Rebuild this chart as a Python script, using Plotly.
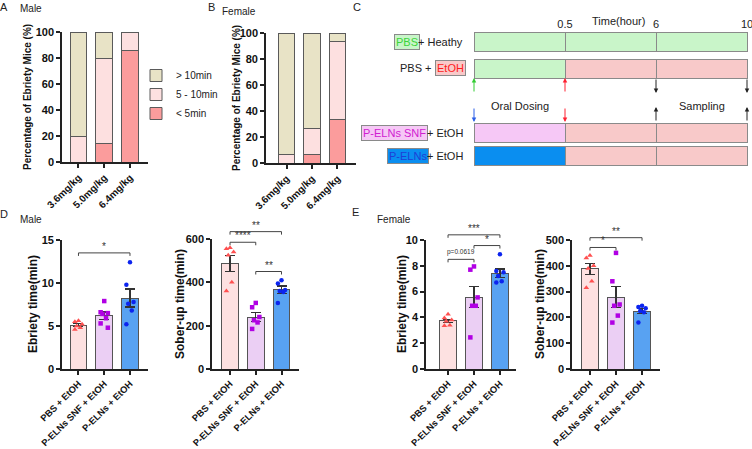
import plotly.graph_objects as go

W, H = 752, 449
FONT = "Liberation Sans, Arial, sans-serif"

# ---------------- data ----------------
doses = ["3.6mg/kg", "5.0mg/kg", "6.4mg/kg"]
onset_classes = ["&lt; 5min", "5 - 10min", "&gt; 10min"]
male_lt5 = [0.0, 14.3, 85.7]
male_5to10 = [20.0, 65.7, 14.3]
male_gt10 = [80.0, 20.0, 0.0]
female_lt5 = [0.0, 6.7, 33.3]
female_5to10 = [6.7, 20.0, 60.0]
female_gt10 = [93.3, 73.3, 6.7]

groups = ["PBS + EtOH", "P-ELNs SNF + EtOH", "P-ELNs + EtOH"]

male_ebriety_mean = [5.1, 6.2, 8.25]
male_ebriety_sem = [0.15, 0.42, 1.05]
male_ebriety_pbs = [5.6, 5.5, 5.2, 5.0, 4.8, 4.6]
male_ebriety_snf = [7.9, 6.6, 6.5, 6.4, 5.9, 5.3, 4.8]
male_ebriety_pelns = [12.4, 9.8, 7.8, 7.6, 6.8, 5.2]

male_sober_mean = [487, 240, 366]
male_sober_sem = [36, 21, 17]
male_sober_pbs = [560, 555, 540, 525, 400, 360]
male_sober_snf = [305, 285, 240, 225, 215, 185]
male_sober_pelns = [410, 395, 365, 360, 355, 305]

female_ebriety_mean = [3.74, 5.56, 7.44]
female_ebriety_sem = [0.12, 0.82, 0.32]
female_ebriety_pbs = [4.25, 3.95, 3.8, 3.7, 3.4, 3.35]
female_ebriety_snf = [7.95, 7.7, 5.55, 4.9, 4.9, 2.45]
female_ebriety_pelns = [8.9, 7.6, 7.5, 7.2, 6.8, 6.7]

female_sober_mean = [388, 279, 224]
female_sober_sem = [21, 42, 10]
female_sober_pbs = [440, 430, 400, 390, 340, 315]
female_sober_snf = [450, 340, 250, 245, 207, 180]
female_sober_pelns = [245, 240, 235, 225, 220, 180]

# comparisons: (group i, group j, bracket height in data units, label)
cmp_male_ebriety = [(0, 2, 13.5, "*")]
cmp_male_sober = [(0, 2, 634, "**"), (0, 1, 585, "****"), (1, 2, 450, "**")]
cmp_female_ebriety = [(0, 2, 10.4, "***"), (1, 2, 9.57, "*"), (0, 1, 8.5, "p=0.0619")]
cmp_female_sober = [(0, 2, 509, "**"), (0, 1, 471, "*")]

# schematic (panel C)
time_ticks = ["0.5", "6", "10"]
schedule_rows = ["PBS + Heathy", "PBS + EtOH", "P-ELNs SNF + EtOH", "P-ELNs + EtOH"]
GREEN, PINK, VIOLET, BLUE = "#c9f5c9", "#f8c9c9", "#f6c8f6", "#0a8ef0"
row_colors = [[GREEN, GREEN, GREEN], [GREEN, PINK, PINK], [VIOLET, PINK, PINK], [BLUE, PINK, PINK]]

# ---------------- layout geometry (pixels) ----------------
panels = {
    "A": dict(xa="x", ya="y", px=(62, 148), py=(32, 162), xr=(-0.64, 2.70), yr=(0, 100), dtick=20, cats=doses, xfs=10),
    "B": dict(xa="x2", ya="y2", px=(266, 356), py=(33, 163), xr=(-0.81, 2.73), yr=(0, 100), dtick=20, cats=doses, xfs=10),
    "D1": dict(xa="x3", ya="y3", px=(62, 148), py=(240, 369), xr=(-0.64, 2.70), yr=(0, 15), dtick=5, cats=groups, xfs=9.3),
    "D2": dict(xa="x4", ya="y4", px=(212, 299), py=(239, 369), xr=(-0.70, 2.68), yr=(0, 600), dtick=200, cats=groups, xfs=9.3),
    "E1": dict(xa="x5", ya="y5", px=(426, 516), py=(240, 369), xr=(-0.85, 2.62), yr=(0, 10), dtick=2, cats=groups, xfs=9.3),
    "E2": dict(xa="x6", ya="y6", px=(572, 660), py=(240, 369), xr=(-0.69, 2.69), yr=(0, 500), dtick=100, cats=groups, xfs=9.3),
}


def to_px(p, xv, yv):
    (x0, x1), (y0, y1) = p["px"], p["py"]
    xr, yr = p["xr"], p["yr"]
    px = x0 + (xv - xr[0]) / (xr[1] - xr[0]) * (x1 - x0)
    py = y1 - (yv - yr[0]) / (yr[1] - yr[0]) * (y1 - y0)
    return px, py


def PX(v):
    return v / W


def PY(v):
    return 1 - v / H


fig = go.Figure()

# ---------------- A / B stacked bars ----------------
stack_colors = ["#fb9c9c", "#fde0e0", "#e8e3c6"]
for key, series, show in [("A", [male_lt5, male_5to10, male_gt10], True),
                          ("B", [female_lt5, female_5to10, female_gt10], False)]:
    p = panels[key]
    for name, vals, col in zip(onset_classes, series, stack_colors):
        fig.add_trace(go.Bar(
            x=[0, 1, 2], y=vals, name=name, width=0.65,
            marker=dict(color=col, line=dict(color="#5a5a5a", width=1)),
            xaxis=p["xa"], yaxis=p["ya"], showlegend=show, legendgroup=name,
            cliponaxis=False, hoverinfo="skip"))

# ---------------- D / E bar + scatter ----------------
bar_fills = ["#fde1e1", "#ebcff4", "#58a2f2"]
point_styles = [("triangle-up", "#ff5050", 5), ("square", "#b100e4", 4.5), ("circle", "#0c24ef", 4.5)]
JIT = [0.0, -0.14, 0.14, -0.07, 0.07, -0.14, 0.14]

dataset = {
    "D1": (male_ebriety_mean, male_ebriety_sem, [male_ebriety_pbs, male_ebriety_snf, male_ebriety_pelns], cmp_male_ebriety),
    "D2": (male_sober_mean, male_sober_sem, [male_sober_pbs, male_sober_snf, male_sober_pelns], cmp_male_sober),
    "E1": (female_ebriety_mean, female_ebriety_sem, [female_ebriety_pbs, female_ebriety_snf, female_ebriety_pelns], cmp_female_ebriety),
    "E2": (female_sober_mean, female_sober_sem, [female_sober_pbs, female_sober_snf, female_sober_pelns], cmp_female_sober),
}

shapes = []
annotations = []

for key, (means, sems, pts, cmps) in dataset.items():
    p = panels[key]
    fig.add_trace(go.Bar(
        x=[0, 1, 2], y=means, width=0.65, showlegend=False,
        marker=dict(color=bar_fills, line=dict(color="#555555", width=1)),
        error_y=dict(type="data", array=sems, visible=True, color="#333333", thickness=1.2, width=5),
        xaxis=p["xa"], yaxis=p["ya"], cliponaxis=False, hoverinfo="skip"))
    for gi, vals in enumerate(pts):
        sym, col, sz = point_styles[gi]
        xs = [gi + JIT[k % len(JIT)] for k in range(len(vals))]
        fig.add_trace(go.Scatter(
            x=xs, y=vals, mode="markers", showlegend=False,
            marker=dict(symbol=sym, color=col, size=sz, line=dict(width=0)),
            xaxis=p["xa"], yaxis=p["ya"], cliponaxis=False, hoverinfo="skip"))
    for (i, j, yv, lab) in cmps:
        xa_px, yy = to_px(p, i, yv)
        xb_px, _ = to_px(p, j, yv)
        shapes.append(dict(
            type="path", xref="paper", yref="paper",
            path=f"M {PX(xa_px)},{PY(yy + 3)} L {PX(xa_px)},{PY(yy)} L {PX(xb_px)},{PY(yy)} L {PX(xb_px)},{PY(yy + 3)}",
            line=dict(color="#444444", width=1)))
        small = lab.startswith("p=")
        annotations.append(dict(
            x=PX((xa_px + xb_px) / 2), y=PY(yy - (1 if small else -1)), xref="paper", yref="paper",
            text=lab, showarrow=False, xanchor="center", yanchor="bottom",
            font=dict(size=6.5 if small else 10, color="#333", family=FONT)))

# ---------------- axes ----------------
layout_axes = {}
for key, p in panels.items():
    xn = "xaxis" + p["xa"][1:]
    yn = "yaxis" + p["ya"][1:]
    layout_axes[xn] = dict(
        domain=[PX(p["px"][0]), PX(p["px"][1])], anchor=p["ya"], range=list(p["xr"]),
        tickmode="array", tickvals=[0, 1, 2], ticktext=p["cats"], tickangle=-45,
        ticks="outside", ticklen=4, tickwidth=1.5, tickcolor="#222", automargin=False,
        ticklabeloverflow="allow",
        showline=True, linewidth=1.6, linecolor="#222", showgrid=False, zeroline=False,
        tickfont=dict(size=p["xfs"], family=FONT, color="#111", weight="bold"))
    layout_axes[yn] = dict(
        domain=[PY(p["py"][1]), PY(p["py"][0])], anchor=p["xa"], range=list(p["yr"]),
        dtick=p["dtick"], tick0=0, ticks="outside", ticklen=4, tickwidth=1.5, tickcolor="#222",
        automargin=False, ticklabeloverflow="allow",
        showline=True, linewidth=1.6, linecolor="#222", showgrid=False, zeroline=False,
        tickfont=dict(size=11, family=FONT, color="#111", weight="bold"))

# ---------------- panel C schematic ----------------
C_X0, C_X3 = 474, 747
c_scale = (C_X3 - C_X0) / 3.0
row_y = [42, 68.5, 132.5, 156]
row_h = 19
layout_axes["xaxis7"] = dict(
    domain=[PX(468), 1.0], anchor="y7", automargin=False, ticklabeloverflow="allow",
    range=[-(C_X0 - 468) / c_scale, 3 + (W - C_X3) / c_scale],
    side="top", tickmode="array", tickvals=[1, 2, 3], ticktext=time_ticks, ticks="",
    showline=False, showgrid=False, zeroline=False,
    tickfont=dict(size=11, family=FONT, color="#222"))
layout_axes["yaxis7"] = dict(
    domain=[PY(168), PY(31)], anchor="x7", range=[168, 31], automargin=False,
    visible=False, showgrid=False, zeroline=False)

for seg in range(3):
    fig.add_trace(go.Bar(
        orientation="h", y=row_y, x=[1] * len(row_y), width=row_h,
        marker=dict(color=[rc[seg] for rc in row_colors], line=dict(color="#8a8a8a", width=1)),
        xaxis="x7", yaxis="y7", showlegend=False, hoverinfo="skip", cliponaxis=False))

annotations.append(dict(x=PX(647), y=PY(13), xref="paper", yref="paper", text="Time(hour)",
                        showarrow=False, font=dict(size=11, family=FONT, color="#222")))

# row labels
lab_font = dict(size=11, family=FONT, color="#222")
row_label_parts = [
    # (boxed text, box text color, box fill, box right px, plain text, plain right px)
    ("PBS", "#3ad43a", GREEN, 420, "+ Heathy", 465),
    ("EtOH", "#ff1a1a", PINK, 466, "PBS +", 434),
    ("P-ELNs SNF", "#d020d0", VIOLET, 428, "+ EtOH", 465),
    ("P-ELNs", "#1f3fd6", BLUE, 429, "+ EtOH", 465),
]
for (btxt, bcol, bfill, bright, ptxt, pright), ry in zip(row_label_parts, row_y):
    annotations.append(dict(x=PX(bright), y=PY(ry), xref="paper", yref="paper", text=btxt,
                            showarrow=False, xanchor="right", yanchor="middle",
                            bgcolor=bfill, bordercolor="#8a8a8a", borderwidth=1, borderpad=1,
                            font=dict(size=11, family=FONT, color=bcol)))
    annotations.append(dict(x=PX(pright), y=PY(ry), xref="paper", yref="paper", text=ptxt,
                            showarrow=False, xanchor="right", yanchor="middle", font=lab_font))

# arrows: (boundary index, colour, direction)
upper_arrows = [(0, "#33cc33", "up"), (1, "#ff2030", "up"), (2, "#222222", "down"), (3, "#222222", "down")]
lower_arrows = [(0, "#2a5ee8", "down"), (1, "#ff2030", "down"), (2, "#222222", "up"), (3, "#222222", "up")]
for arrows, top, bot in [(upper_arrows, 78, 93), (lower_arrows, 107, 122)]:
    for k, col, d in arrows:
        tip = top if d == "up" else bot
        annotations.append(dict(x=k, y=PY(tip), xref="x7", yref="paper", ax=0,
                                ay=(bot - top) if d == "up" else -(bot - top),
                                showarrow=True, arrowhead=2, arrowsize=0.9, arrowwidth=1,
                                arrowcolor=col, text=""))
annotations.append(dict(x=0.5, y=PY(98), xref="x7", yref="paper", text="Oral Dosing",
                        showarrow=False, font=lab_font))
annotations.append(dict(x=2.5, y=PY(98), xref="x7", yref="paper", text="Sampling",
                        showarrow=False, font=lab_font))

# ---------------- texts: panel letters, subtitles, y titles ----------------
texts = [
    ("A", 4, 7, 11), ("B", 211, 7, 11), ("C", 357, 7, 11), ("D", 4, 214, 11), ("E", 355, 212, 11),
    ("Male", 31, 9, 10), ("Female", 239, 11, 10), ("Male", 31, 219, 10), ("Female", 394, 219, 10),
]
for t, x, y, s in texts:
    annotations.append(dict(x=PX(x), y=PY(y), xref="paper", yref="paper", text=t, showarrow=False,
                            xanchor="center", yanchor="middle", font=dict(size=s, family=FONT, color="#222")))

ytitles = [
    ("Percentage of Ebriety Mice (%)", 28, 97, 10),
    ("Percentage of Ebriety Mice (%)", 236, 98, 10),
    ("Ebriety time(min)", 33, 304, 12),
    ("Sober-up time(min)", 180, 304, 12),
    ("Ebriety time(min)", 402, 304, 12),
    ("Sober-up time(min)", 540, 304, 12),
]
for t, x, y, s in ytitles:
    annotations.append(dict(x=PX(x), y=PY(y), xref="paper", yref="paper", text=t, showarrow=False,
                            textangle=-90, xanchor="center", yanchor="middle",
                            font=dict(size=s, family=FONT, color="#111", weight="bold")))

fig.update_layout(
    width=W, height=H, margin=dict(l=0, r=0, t=0, b=0, autoexpand=False),
    paper_bgcolor="white", plot_bgcolor="rgba(0,0,0,0)",
    barmode="stack", bargap=0.35,
    font=dict(family=FONT, color="#222"),
    legend=dict(x=PX(136), y=PY(61), xanchor="left", yanchor="top", traceorder="reversed",
                font=dict(size=10, family=FONT, color="#222"), bgcolor="rgba(0,0,0,0)",
                itemwidth=30, tracegroupgap=0),
    shapes=shapes, annotations=annotations,
    **layout_axes,
)

fig.write_html("out.html", config={"displayModeBar": False},
               post_script="document.body.style.margin='0px';")
